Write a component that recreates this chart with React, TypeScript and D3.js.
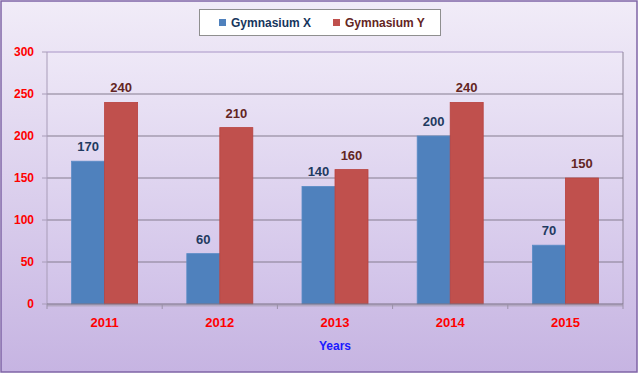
import React from "react";
import * as d3 from "d3";

const years = ["2011", "2012", "2013", "2014", "2015"];
const seriesNames = ["Gymnasium X", "Gymnasium Y"];
const gymX = [170, 60, 140, 200, 70];
const gymY = [240, 210, 160, 240, 150];
const yTicks = [0, 50, 100, 150, 200, 250, 300];

const W = 640;
const H = 374;
const FONT = '"Liberation Sans", Arial, sans-serif';

const barFill = ["#4f81bd", "#c0504d"];
const barStroke = ["#5b8cc6", "#b8413e"];
const labelFill = ["#1f3a60", "#632523"];
const legendText = ["#17365d", "#632523"];

export default function App() {
  const left = 47, right = 623, top = 52, bottom = 304;
  const x0 = d3.scaleBand<string>().domain(years).range([left, right]).paddingInner(0.427).paddingOuter(0.2135);
  const x1 = d3.scaleBand<string>().domain(seriesNames).range([0, x0.bandwidth()]);
  const y = d3.scaleLinear().domain([0, 300]).range([bottom, top]);
  const step = x0.step();
  const gap = (step - x0.bandwidth()) / 2;
  const series = [gymX, gymY];
  const boundaries = years.map((yr) => (x0(yr) as number) - gap).concat([right]);

  return (
    <svg width={W} height={H} style={{ position: "absolute", left: 0, top: 0 }}>
      <defs>
        <linearGradient id="bg" x1="0" y1="0" x2="0" y2="1">
          <stop offset="0" stopColor="#f1ecf8" />
          <stop offset="1" stopColor="#c6b4e2" />
        </linearGradient>
        <linearGradient id="plotbg" x1="0" y1="0" x2="0" y2="1">
          <stop offset="0" stopColor="#eee8f7" />
          <stop offset="1" stopColor="#d0c1e8" />
        </linearGradient>
      </defs>
      <rect x={1} y={1} width={636} height={371} fill="url(#bg)" stroke="#7f64a6" strokeWidth={1.5} />
      {/* plot area */}
      <rect x={left} y={top} width={right - left} height={bottom - top} fill="url(#plotbg)" stroke="none" />
      <line x1={left} x2={right} y1={top} y2={top} stroke="#bfb0d6" strokeWidth={1.5} />
      <line x1={right} x2={right} y1={top} y2={bottom} stroke="#8e8499" strokeWidth={1} />
      {/* gridlines */}
      {yTicks.filter((t) => t > 0 && t < 300).map((t) => (
        <line key={t} x1={left} x2={right} y1={y(t)} y2={y(t)} stroke="#857c8f" strokeWidth={1} />
      ))}
      {/* y axis */}
      <line x1={left} x2={left} y1={top} y2={bottom} stroke="#a89cb8" strokeWidth={1} />
      {yTicks.map((t) => (
        <g key={t}>
          <line x1={42} x2={left} y1={y(t)} y2={y(t)} stroke="#a89cb8" strokeWidth={1} />
          <text x={34} y={y(t)} dy="0.36em" textAnchor="end" fill="#ff0000" fontFamily={FONT} fontSize={12} fontWeight="bold">
            {t}
          </text>
        </g>
      ))}
      {/* bars */}
      {years.map((yr, i) => (
        <g key={yr}>
          {series.map((s, k) => {
            const bx = (x0(yr) as number) + (x1(seriesNames[k]) as number);
            const bw = x1.bandwidth();
            const by = y(s[i]);
            return (
              <g key={k}>
                <rect x={bx} y={by} width={bw} height={bottom - by} fill={barFill[k]} stroke={barStroke[k]} strokeWidth={0.8} />
                <text x={bx + bw / 2} y={by - 10} textAnchor="middle" fill={labelFill[k]} fontFamily={FONT} fontSize={13} fontWeight="bold">
                  {s[i]}
                </text>
              </g>
            );
          })}
        </g>
      ))}
      {/* x axis */}
      <line x1={left} x2={right} y1={bottom + 1.5} y2={bottom + 1.5} stroke="#b3a8c2" strokeWidth={2} />
      <line x1={left} x2={right} y1={bottom} y2={bottom} stroke="#7a7284" strokeWidth={1.2} />
      {boundaries.map((b, i) => (
        <line key={i} x1={b} x2={b} y1={bottom} y2={bottom + 5} stroke="#9a90a8" strokeWidth={1} />
      ))}
      {years.map((yr) => (
        <text key={yr} x={(x0(yr) as number) + x0.bandwidth() / 2} y={327} textAnchor="middle" fill="#ff0000" fontFamily={FONT} fontSize={13} fontWeight="bold">
          {yr}
        </text>
      ))}
      <text x={(left + right) / 2} y={350} textAnchor="middle" fill="#1a1aff" fontFamily={FONT} fontSize={12} fontWeight="bold">
        Years
      </text>
      {/* legend */}
      <rect x={199.5} y={9.5} width={241} height={26} fill="#ffffff" stroke="#8f8f8f" strokeWidth={1} />
      {seriesNames.map((n, k) => {
        const lx = k === 0 ? 219 : 333;
        return (
          <g key={n}>
            <rect x={lx} y={19} width={7} height={7} fill={barFill[k]} />
            <text x={lx + 12} y={26.5} fill={legendText[k]} fontFamily={FONT} fontSize={12} fontWeight="bold">
              {n}
            </text>
          </g>
        );
      })}
    </svg>
  );
}
